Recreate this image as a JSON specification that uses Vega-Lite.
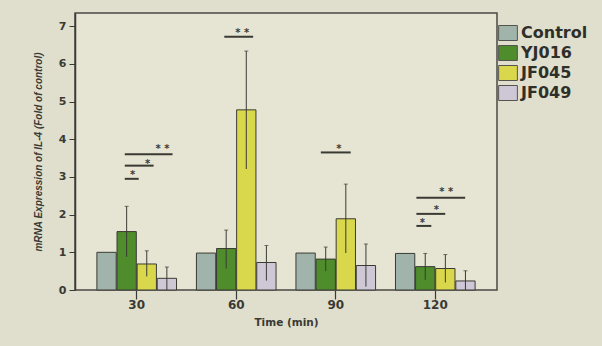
{
  "$schema": "https://vega.github.io/schema/vega-lite/v6.json",
  "width": 422,
  "height": 277,
  "autosize": {"type": "none"},
  "padding": {"left": 75, "top": 13, "right": 105, "bottom": 56},
  "background": "#e0dfcd",
  "config": {
    "view": {"stroke": "#4a4a44", "strokeWidth": 1.5, "fill": "#e6e5d4"},
    "font": "DejaVu Sans",
    "axisY": {
      "grid": false,
      "domainColor": "#3a3a34", "domainWidth": 1.5,
      "tickSize": 6, "tickColor": "#3a3a34",
      "labelFont": "DejaVu Sans", "labelFontSize": 11, "labelFontWeight": "bold", "labelColor": "#3a3a34", "labelPadding": 3,
      "titleFont": "Liberation Sans", "titleFontSize": 10, "titleFontWeight": "bold", "titleFontStyle": "italic", "titleColor": "#3a3a34", "titlePadding": 15
    }
  },
  "datasets": {
    "bars": [
      {"Time": 30, "Group": "Control", "mean": 1.0, "lo": null, "hi": null},
      {"Time": 30, "Group": "YJ016", "mean": 1.55, "lo": 0.88, "hi": 2.22},
      {"Time": 30, "Group": "JF045", "mean": 0.69, "lo": 0.36, "hi": 1.04},
      {"Time": 30, "Group": "JF049", "mean": 0.31, "lo": 0.0, "hi": 0.61},
      {"Time": 60, "Group": "Control", "mean": 0.98, "lo": null, "hi": null},
      {"Time": 60, "Group": "YJ016", "mean": 1.1, "lo": 0.57, "hi": 1.59},
      {"Time": 60, "Group": "JF045", "mean": 4.78, "lo": 3.21, "hi": 6.34},
      {"Time": 60, "Group": "JF049", "mean": 0.73, "lo": 0.25, "hi": 1.18},
      {"Time": 90, "Group": "Control", "mean": 0.98, "lo": null, "hi": null},
      {"Time": 90, "Group": "YJ016", "mean": 0.82, "lo": 0.5, "hi": 1.14},
      {"Time": 90, "Group": "JF045", "mean": 1.89, "lo": 0.98, "hi": 2.81},
      {"Time": 90, "Group": "JF049", "mean": 0.65, "lo": 0.09, "hi": 1.22},
      {"Time": 120, "Group": "Control", "mean": 0.97, "lo": null, "hi": null},
      {"Time": 120, "Group": "YJ016", "mean": 0.62, "lo": 0.27, "hi": 0.97},
      {"Time": 120, "Group": "JF045", "mean": 0.57, "lo": 0.2, "hi": 0.94},
      {"Time": 120, "Group": "JF049", "mean": 0.24, "lo": 0.0, "hi": 0.51}
    ],
    "sig": [
      {"from": 26.4, "to": 30.6, "level": 2.95, "mark": "*", "at": 28.8, "starLevel": 3.14},
      {"from": 26.4, "to": 35.1, "level": 3.3, "mark": "*", "at": 33.3, "starLevel": 3.41},
      {"from": 26.4, "to": 40.8, "level": 3.6, "mark": "* *", "at": 37.8, "starLevel": 3.81},
      {"from": 56.4, "to": 65.1, "level": 6.72, "mark": "* *", "at": 61.8, "starLevel": 6.91},
      {"from": 85.5, "to": 94.5, "level": 3.65, "mark": "*", "at": 90.9, "starLevel": 3.83},
      {"from": 114.3, "to": 129.0, "level": 2.45, "mark": "* *", "at": 123.3, "starLevel": 2.67},
      {"from": 114.3, "to": 123.0, "level": 2.02, "mark": "*", "at": 120.3, "starLevel": 2.21},
      {"from": 114.3, "to": 118.8, "level": 1.7, "mark": "*", "at": 116.1, "starLevel": 1.86}
    ]
  },
  "layer": [
    {
      "data": {"name": "bars"},
      "encoding": {
        "x": {
          "field": "Time", "type": "ordinal",
          "scale": {"domain": [30, 60, 90, 120], "paddingInner": 0.2, "paddingOuter": 0.22},
          "axis": {
            "title": "Time (min)", "labelAngle": 0, "domain": false,
            "tickSize": 9, "tickColor": "#3a3a34", "tickWidth": 1.2,
            "labelFont": "DejaVu Sans", "labelFontSize": 12, "labelFontWeight": "bold", "labelColor": "#3a3a34", "labelPadding": 0,
            "titleFont": "DejaVu Sans", "titleFontSize": 10.5, "titleFontWeight": "bold", "titleColor": "#3a3a34", "titlePadding": 7
          }
        },
        "xOffset": {
          "field": "Group", "type": "nominal",
          "scale": {"domain": ["Control", "YJ016", "JF045", "JF049"], "paddingInner": 0.04}
        }
      },
      "layer": [
        {
          "mark": {"type": "bar", "stroke": "#3a3a34", "strokeWidth": 1},
          "encoding": {
            "y": {
              "field": "mean", "type": "quantitative",
              "scale": {"domain": [0, 7.35], "nice": false},
              "axis": {"title": "mRNA Expression of IL-4 (Fold of control)", "values": [0, 1, 2, 3, 4, 5, 6, 7]}
            },
            "color": {
              "field": "Group", "type": "nominal",
              "scale": {"domain": ["Control", "YJ016", "JF045", "JF049"], "range": ["#a0b4ac", "#4e8c2c", "#d9d84c", "#cdc7d6"]},
              "legend": {
                "title": null, "orient": "none", "legendX": 425, "legendY": 12,
                "symbolType": "M-1.25,-1H1.25V1H-1.25Z", "symbolSize": 225,
                "symbolStrokeColor": "#55554e", "symbolStrokeWidth": 1, "symbolOpacity": 1,
                "labelFont": "DejaVu Sans", "labelFontSize": 16, "labelFontWeight": "bold", "labelColor": "#2f2f2a",
                "rowPadding": 0, "labelOffset": 5, "labelLimit": 200
              }
            }
          }
        },
        {
          "transform": [{"filter": "datum.lo != null"}],
          "mark": {"type": "rule", "color": "#3a3a34", "strokeWidth": 1},
          "encoding": {
            "y": {"field": "lo", "type": "quantitative", "axis": {"title": "mRNA Expression of IL-4 (Fold of control)", "values": [0, 1, 2, 3, 4, 5, 6, 7]}},
            "y2": {"field": "hi"}
          }
        },
        {
          "transform": [{"filter": "datum.lo != null"}],
          "mark": {"type": "tick", "color": "#3a3a34", "size": 4, "thickness": 1},
          "encoding": {
            "y": {"field": "hi", "type": "quantitative", "axis": {"title": "mRNA Expression of IL-4 (Fold of control)", "values": [0, 1, 2, 3, 4, 5, 6, 7]}}
          }
        }
      ]
    },
    {
      "data": {"name": "sig"},
      "layer": [
        {
          "mark": {"type": "rule", "color": "#3a3a34", "strokeWidth": 2},
          "encoding": {
            "x": {"field": "from", "type": "quantitative", "scale": {"domain": [11.4, 138.6], "nice": false, "zero": false}, "axis": null},
            "x2": {"field": "to"},
            "y": {"field": "level", "type": "quantitative", "axis": {"title": "mRNA Expression of IL-4 (Fold of control)", "values": [0, 1, 2, 3, 4, 5, 6, 7]}}
          }
        },
        {
          "mark": {"type": "text", "color": "#3a3a34", "fontSize": 10, "fontWeight": "bold", "baseline": "middle", "dy": 3},
          "encoding": {
            "x": {"field": "at", "type": "quantitative", "axis": null},
            "y": {"field": "starLevel", "type": "quantitative", "axis": {"title": "mRNA Expression of IL-4 (Fold of control)", "values": [0, 1, 2, 3, 4, 5, 6, 7]}},
            "text": {"field": "mark"}
          }
        }
      ]
    }
  ],
  "resolve": {"scale": {"x": "independent"}}
}
